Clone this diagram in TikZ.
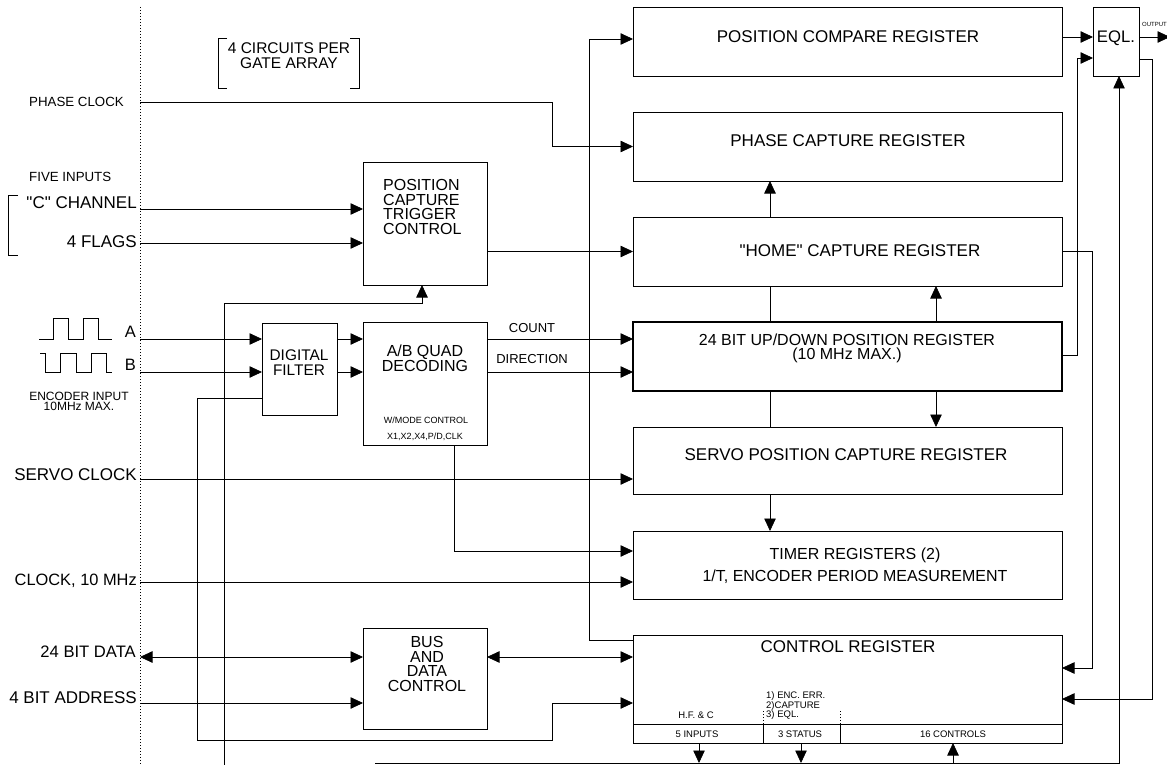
\documentclass[tikz,border=0pt]{standalone}
\usepackage{fontspec}
\setmainfont{Liberation Sans}
\usetikzlibrary{calc,arrows.meta,positioning}
\newcommand{\szreg}{\fontsize{17pt}{17pt}\selectfont}
\newcommand{\szbox}{\fontsize{16pt}{14.6pt}\selectfont}
\newcommand{\szcap}{\fontsize{15.5pt}{15pt}\selectfont}
\newcommand{\szck}{\fontsize{16.4pt}{17pt}\selectfont}
\newcommand{\szsm}{\fontsize{13.3pt}{14pt}\selectfont}
\newcommand{\szlab}{\fontsize{13pt}{14pt}\selectfont}
\newcommand{\szenc}{\fontsize{12pt}{10pt}\selectfont}
\newcommand{\szcell}{\fontsize{9.5pt}{9.6pt}\selectfont}
\newcommand{\szmode}{\fontsize{9pt}{10pt}\selectfont}
\newcommand{\szout}{\fontsize{6pt}{7pt}\selectfont}
\newcommand{\qt}{\textquotedbl}
\tikzset{
    wire/.style={line width=0.75pt},
    sig/.style={wire,-{Triangle[length=12.5pt,width=11.5pt]}},
    dsig/.style={wire,{Triangle[length=12.5pt,width=11.5pt]}-{Triangle[length=12.5pt,width=11.5pt]}},
    blk/.style={draw,line width=0.75pt,inner sep=0pt,outer sep=0pt,anchor=north west},
    txt/.style={inner sep=0pt,text depth=0pt}
}

\begin{document}
\begin{tikzpicture}[x=1pt,y=-1pt]
    \useasboundingbox (0,0) rectangle (1167,765);

    \node[blk,minimum width=429pt,minimum height=69pt] (cmp) at (633,7) {};
    \node[blk,minimum width=429pt,minimum height=69pt] (phs) at (633,112) {};
    \node[blk,minimum width=429pt,minimum height=69pt] (home) at (633,217) {};
    \node[blk,minimum width=429pt,minimum height=69pt,line width=2.6pt] (pos) at (633,322) {};
    \node[blk,minimum width=429pt,minimum height=67pt] (servo) at (633,427) {};
    \node[blk,minimum width=429pt,minimum height=68pt] (timer) at (633,531) {};
    \node[blk,minimum width=429pt,minimum height=108pt] (ctrl) at (633,635) {};
    \node[blk,minimum width=46pt,minimum height=69pt] (eql) at (1093,7) {};
    \node[blk,minimum width=124pt,minimum height=123pt] (pctc) at (363,162) {};
    \node[blk,minimum width=75pt,minimum height=92pt] (filt) at (262,323) {};
    \node[blk,minimum width=124pt,minimum height=123pt] (quad) at (363,322) {};
    \node[blk,minimum width=124pt,minimum height=101pt] (bus) at (363,628) {};

    \node[txt,font=\szreg] (cmpT) at (848,37) {POSITION COMPARE REGISTER};
    \node[txt,font=\szreg] (phsT) at (848,141) {PHASE CAPTURE REGISTER};
    \node[txt,font=\szreg] (homeT) at (860,251) {\qt HOME\qt\ CAPTURE REGISTER};
    \node[txt,font=\szbox,align=center,anchor=north] (posT) at (847,333.3) {24 BIT UP/DOWN POSITION REGISTER\\(10 MHz MAX.)};
    \node[txt,font=\szreg] (servoT) at (846,455) {SERVO POSITION CAPTURE REGISTER};
    \node[txt,font=\fontsize{16pt}{22pt}\selectfont,align=center,anchor=north] (timerT) at (855,547.3) {TIMER REGISTERS (2)\\1/T, ENCODER PERIOD MEASUREMENT};
    \node[txt,font=\szreg] (ctrlT) at (848,647) {CONTROL REGISTER};
    \node[txt,font=\fontsize{16.7pt}{17pt}\selectfont] (eqlT) at (1116,37) {EQL.};
    \node[txt,font=\szout,anchor=west] (outT) at (1142,24) {OUTPUT};
    \node[txt,font=\szbox,align=left,anchor=north west] (pctcT) at (383,179.3) {POSITION\\CAPTURE\\TRIGGER\\CONTROL};
    \node[txt,font=\fontsize{15.4pt}{15pt}\selectfont,align=center,anchor=north] (filtT) at (299,349.5) {DIGITAL\\FILTER};
    \node[txt,font=\szbox,align=center,anchor=north] (quadT) at (425,345) {A/B QUAD\\DECODING};
    \node[txt,font=\szmode] (modeT) at (426,420) {W/MODE CONTROL};
    \node[txt,font=\szmode] (modeX) at (425,436) {X1,X2,X4,P/D,CLK};
    \node[txt,font=\szbox,align=center,anchor=north] (busT) at (427,636.3) {BUS\\AND\\DATA\\CONTROL};
    \node[txt,font=\szcap,align=center,anchor=north] (gateT) at (289,42.5) {4 CIRCUITS PER\\GATE ARRAY};
    \node[txt,font=\szlab] (cntT) at (532,328) {COUNT};
    \node[txt,font=\szlab] (dirT) at (532,359) {DIRECTION};

    \node[txt,font=\szsm,anchor=west] (phL) at (29,102) {PHASE CLOCK};
    \node[txt,font=\szsm,anchor=west] (fiveL) at (29,177) {FIVE INPUTS};
    \node[txt,font=\szreg,anchor=east] (chL) at (137,203) {\qt C\qt\ CHANNEL};
    \node[txt,font=\szreg,anchor=east] (flL) at (137,242) {4 FLAGS};
    \node[txt,font=\fontsize{16.5pt}{17pt}\selectfont,anchor=east] (aL) at (136,332) {A};
    \node[txt,font=\fontsize{16.5pt}{17pt}\selectfont,anchor=east] (bL) at (136,365) {B};
    \node[txt,font=\szenc,align=center,anchor=north] (encL) at (79,391.7) {ENCODER INPUT\\10MHz MAX.};
    \node[txt,font=\szreg,anchor=east] (svL) at (137,475) {SERVO CLOCK};
    \node[txt,font=\szck,anchor=east] (ckL) at (137,580) {CLOCK, 10 MHz};
    \node[txt,font=\fontsize{16.6pt}{17pt}\selectfont,anchor=east] (dataL) at (136,652) {24 BIT DATA};
    \node[txt,font=\szreg,anchor=east] (adrL) at (137,698) {4 BIT ADDRESS};

    \node[txt,font=\szcell] (hfT) at (696,715) {H.F. \& C};
    \node[txt,font=\szcell,align=left,anchor=north west] (stT) at (766,691.4) {1) ENC. ERR.\\2)CAPTURE\\3) EQL.};
    \node[txt,font=\szcell] (in5T) at (697,734) {5 INPUTS};
    \node[txt,font=\szcell] (st3T) at (800,734) {3 STATUS};
    \node[txt,font=\szcell] (c16T) at (953,734) {16 CONTROLS};

    \coordinate (inPh) at (140,102);
    \coordinate (inC) at (140,209);
    \coordinate (inF) at (140,243);
    \coordinate (inA) at (140,339);
    \coordinate (inB) at (140,372);
    \coordinate (inSv) at (140,479);
    \coordinate (inCk) at (140,582);
    \coordinate (inD) at (140,657);
    \coordinate (inAd) at (140,703);
    \coordinate (colL) at (770,0);
    \coordinate (colR) at (936,0);
    \coordinate (botL) at (375,763);
    \coordinate (c5) at (699,763);
    \coordinate (c3) at (801,763);
    \coordinate (c16) at (953,763);
    \coordinate (dv1) at (763,743);
    \coordinate (dv2) at (840,743);
    \coordinate (vL) at (224,765);

    \draw[line width=0.6pt,dash pattern=on 1pt off 2pt] (140,7) -- (140,765);
    \draw[wire] (227,38) -- (218,38) -- (218,88) -- (227,88);
    \draw[wire] (350,38) -- (359,38) -- (359,88) -- (350,88);
    \draw[wire] (18,195) -- (8,195) -- (8,255) -- (18,255);
    \draw[wire] (39,339) -- (53,339) -- (53,318) -- (68,318) -- (68,339) -- (83,339) -- (83,318) -- (98,318) -- (98,339) -- (112,339);
    \draw[wire] (40,353) -- (45,353) -- (45,372) -- (60,372) -- (60,353) -- (76,353) -- (76,372) -- (91,372) -- (91,353) -- (106,353) -- (106,372) -- (112,372);

    \draw[wire] ($(ctrl.south west)+(0,-19)$) -- ($(ctrl.south east)+(0,-19)$);
    \draw[wire] (dv1) -- ++(0,-19);
    \draw[wire] (dv2) -- ++(0,-19);
    \draw[line width=0.6pt,dash pattern=on 1pt off 2pt] ($(dv1)+(0,-19)$) -- ++(0,-14);
    \draw[line width=0.6pt,dash pattern=on 1pt off 2pt] ($(dv2)+(0,-19)$) -- ++(0,-14);

    \draw[sig] (inPh) -- (552,102) |- (phs.west);
    \draw[sig] ($(ctrl.north west)+(0,5)$) -- (589,640) |- ($(cmp.west)+(0,-2.5)$);
    \draw[sig] (inC) -- (pctc.west |- inC);
    \draw[sig] (inF) -- (pctc.west |- inF);
    \draw[sig] (pctc.east |- home.west) -- (home.west);
    \draw[sig] (inA) -- (filt.west |- inA);
    \draw[sig] (inB) -- (filt.west |- inB);
    \draw[sig] (filt.east |- inA) -- (quad.west |- inA);
    \draw[sig] (filt.east |- inB) -- (quad.west |- inB);
    \draw[sig] (quad.east |- inA) -- (pos.west |- inA);
    \draw[sig] (quad.east |- inB) -- (pos.west |- inB);
    \draw[sig] ($(quad.south)+(29,0)$) |- ($(timer.west)+(0,-14)$);
    \draw[sig] (inSv) -- (servo.west |- inSv);
    \draw[sig] (inCk) -- (timer.west |- inCk);
    \draw[dsig] (inD) -- (bus.west |- inD);
    \draw[dsig] (bus.east |- inD) -- (ctrl.west |- inD);
    \draw[sig] (inAd) -- (bus.west |- inAd);
    \draw[sig] (vL) |- ($(pctc.south)+(-3,18)$) -- ($(pctc.south)+(-3,0)$);
    \draw[sig] ($(filt.west)+(0,29)$) -| (197,740) -| ($(ctrl.west)+(-81,14)$) -- ($(ctrl.west)+(0,14)$);

    \draw[sig] (home.north -| colL) -- (phs.south -| colL);
    \draw[wire] (pos.north -| colL) -- (home.south -| colL);
    \draw[wire] (pos.south -| colL) -- (servo.north -| colL);
    \draw[sig] (servo.south -| colL) -- (timer.north -| colL);
    \draw[sig] (pos.north -| colR) -- (home.south -| colR);
    \draw[sig] (pos.south -| colR) -- (servo.north -| colR);

    \draw[sig] ($(cmp.east)+(0,-4.5)$) -- ($(eql.west)+(0,-4.5)$);
    \draw[sig] ($(pos.east)+(0,-1.5)$) -| ($(eql.west)+(-16,16.5)$) -- ($(eql.west)+(0,16.5)$);
    \draw[sig] ($(eql.east)+(0,-4.5)$) -- ++(31,0);
    \draw[sig] ($(eql.east)+(0,17.5)$) -| ($(ctrl.east)+(90,10)$) -- ($(ctrl.east)+(0,10)$);
    \draw[sig] (home.east) -| ($(ctrl.east)+(30,-21)$) -- ($(ctrl.east)+(0,-21)$);
    \draw[sig] (botL) -| ($(eql.south)+(3,0)$);
    \draw[sig] (ctrl.south -| c5) -- (c5);
    \draw[sig] (ctrl.south -| c3) -- (c3);
    \draw[sig] (c16) -- (ctrl.south -| c16);

\end{tikzpicture}
\end{document}
